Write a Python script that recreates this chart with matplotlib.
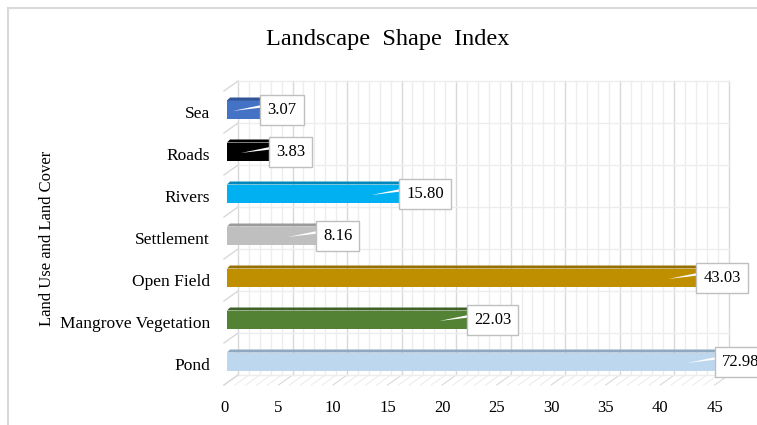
import matplotlib.pyplot as plt
from matplotlib.patches import Polygon, Rectangle
from matplotlib.lines import Line2D

# Landscape Shape Index per land use / land cover class (Excel style 3D bars)
categories = ["Pond", "Mangrove Vegetation", "Open Field", "Settlement",
              "Rivers", "Roads", "Sea"]
values = [72.98, 22.03, 43.03, 8.16, 15.80, 3.83, 3.07]
labels = ["72.98", "22.03", "43.03", "8.16", "15.80", "3.83", "3.07"]
face_colors = ["#BDD7EE", "#548235", "#BF8F00", "#BFBFBF", "#00B0F0", "#000000", "#4472C4"]
top_colors = ["#8EA9C1", "#3E6327", "#967000", "#9A9A9A", "#0088BA", "#000000", "#2F5597"]
xticks = [0, 5, 10, 15, 20, 25, 30, 35, 40, 45]

plt.rcParams['font.family'] = ['Liberation Serif', 'DejaVu Serif']

W, H = 757, 425
fig = plt.figure(figsize=(W / 100, H / 100), dpi=100)

# front plane of the plot in pixels
x0_px, x1_px = 224, 718
y_bot_px, y_top_px = 385, 91
ax = fig.add_axes([x0_px / W, 1 - y_bot_px / H,
                   (x1_px - x0_px) / W, (y_bot_px - y_top_px) / H])
xmax = 45.3
ax.set_xlim(0, xmax)
ax.set_ylim(-0.5, 6.5)
ax.patch.set_alpha(0)

sx = (x1_px - x0_px) / xmax
sy = (y_bot_px - y_top_px) / 7.0


def px(d):
    return d / sx


def py(d):
    return d / sy


# depth of the back wall
dxw, dyw = px(14), py(10)
minor_c = "#EDEDED"
major_c = "#D9D9D9"

# back wall verticals
for i in range(0, 46):
    c = major_c if i % 5 == 0 else minor_c
    ax.plot([i + dxw, i + dxw], [-0.5 + dyw, 6.5 + dyw], color=c, lw=1,
            zorder=0, clip_on=False)
    # floor hatch
    ax.plot([i, i + dxw], [-0.5, -0.5 + dyw], color=c, lw=0.8, zorder=0, clip_on=False)
# back wall horizontals and left wall diagonals
for k in range(8):
    yy = k - 0.5
    ax.plot([dxw, 45 + dxw], [yy + dyw, yy + dyw], color=minor_c, lw=1,
            zorder=0, clip_on=False)
    ax.plot([0, dxw], [yy, yy + dyw], color=major_c, lw=1, zorder=0, clip_on=False)

# bars
h = 0.5
lift = py(4)
x_start = px(3)
tdx, tdy = px(3), py(3)
for i, v in enumerate(values):
    yc = i + lift
    b = yc - h / 2
    t = yc + h / 2
    ax.add_patch(Rectangle((x_start, b), v, h - tdy, fc=face_colors[i], ec="none", zorder=2))
    ax.add_patch(Polygon([(x_start, t - tdy), (x_start + v, t - tdy),
                          (x_start + v + tdx, t), (x_start + tdx, t)],
                         closed=True, fc=top_colors[i], ec="none", zorder=2))
    ax.add_patch(Polygon([(x_start + v, b), (x_start + v, t - tdy),
                          (x_start + v + tdx, t), (x_start + v + tdx, b + tdy)],
                         closed=True, fc=top_colors[i], ec="none", zorder=2))

    end = min(x_start + v + tdx, xmax)
    # white callout wedge
    ax.add_patch(Polygon([(end - px(31), yc - py(3)), (end + px(3), yc + py(1)),
                          (end + px(3), yc + py(4))],
                         closed=True, fc="white", ec="none", zorder=3, clip_on=False))
    ax.text(end + px(4), yc - py(2), labels[i], ha="left", va="center", fontsize=12,
            zorder=4, bbox=dict(boxstyle="square,pad=0.42", fc="white", ec="#BFBFBF", lw=1))

ax.set_yticks(range(len(categories)))
ax.set_yticklabels(categories, fontsize=12.5)
ax.set_xticks(xticks)
ax.set_xticklabels([str(x) for x in xticks], fontsize=12)
ax.tick_params(axis="y", length=0, pad=10)
ax.tick_params(axis="x", length=0, pad=11)
for s in ax.spines.values():
    s.set_visible(False)

fig.text(388 / W, 1 - 40 / H, "Landscape  Shape  Index", ha="center", va="center",
         fontsize=17.5)
fig.text(47 / W, 1 - 238 / H, "Land Use and Land Cover", ha="center", va="center",
         rotation=90, fontsize=12)

# chart frame
fig.add_artist(Line2D([8 / W, 1], [1 - 8 / H, 1 - 8 / H], color="#D9D9D9", lw=1.5))
fig.add_artist(Line2D([8 / W, 8 / W], [0, 1 - 8 / H], color="#D9D9D9", lw=1.5))

fig.savefig("out.png", dpi=100)
